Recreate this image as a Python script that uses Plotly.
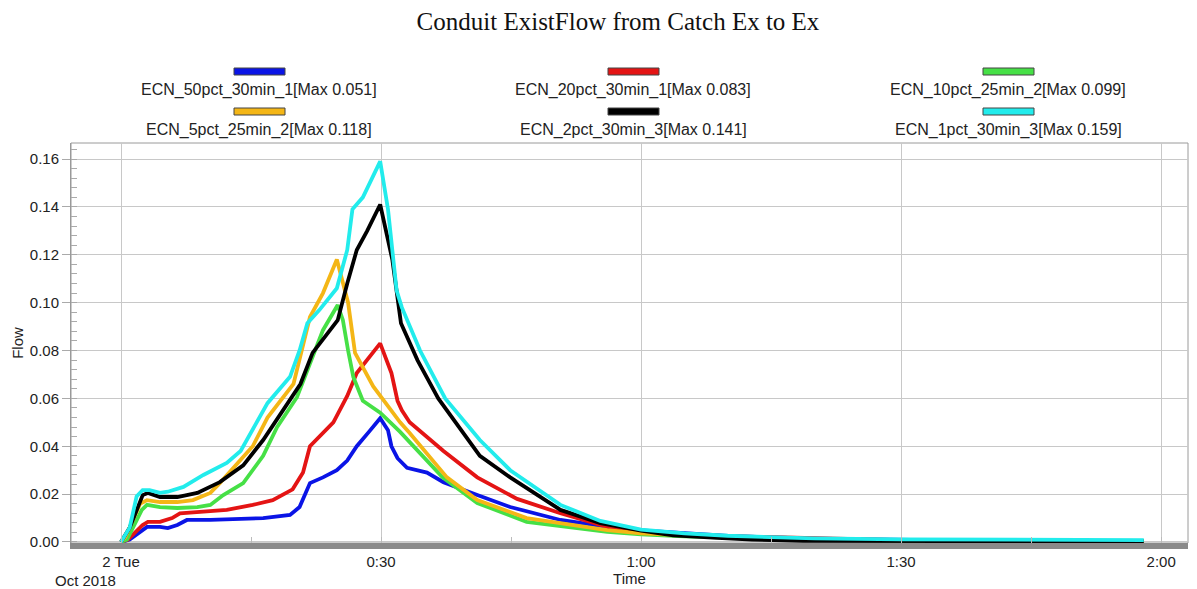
import plotly.graph_objects as go

# ---- data (time in minutes after 2 Oct 2018 00:00, flow) ----
names = ["ECN_50pct_30min_1[Max 0.051]", "ECN_20pct_30min_1[Max 0.083]", "ECN_10pct_25min_2[Max 0.099]",
         "ECN_5pct_25min_2[Max 0.118]", "ECN_2pct_30min_3[Max 0.141]", "ECN_1pct_30min_3[Max 0.159]"]
colors = ["#0a14e6", "#e41414", "#46e046", "#f4b616", "#000000", "#22ecec"]

t_blue = [0, 1, 3, 4.5, 5.4, 6.5, 7.6, 10.3, 16.4, 19.5, 20.6, 21.5, 21.8, 23.3, 24.9, 26.1, 27.2, 28.6, 29.9,
          30.8, 31.2, 31.9, 33, 35.3, 37.2, 41.1, 44.9, 50.7, 56.1, 60, 65, 70, 80, 90, 100, 118]
v_blue = [0, 0.001, 0.0063, 0.0063, 0.0058, 0.0071, 0.0092, 0.0092, 0.010, 0.0113, 0.0146, 0.0217, 0.0246, 0.027,
          0.030, 0.034, 0.040, 0.046, 0.0517, 0.0467, 0.040, 0.035, 0.031, 0.029, 0.025, 0.0196, 0.0146, 0.0092,
          0.0063, 0.0048, 0.0035, 0.0025, 0.0014, 0.0008, 0.0005, 0.0003]

t_red = [0, 0.8, 2.5, 3.1, 4.5, 5.9, 6.8, 8.3, 12.2, 15.2, 17.5, 19.8, 21, 21.8, 24.5, 26.1, 27.2, 29.9,
         31.2, 31.9, 32.4, 33.3, 37.2, 41.1, 45.7, 50.7, 56.1, 60, 65, 70, 80, 90, 100, 118]
v_red = [0, 0.001, 0.0071, 0.0084, 0.0084, 0.010, 0.012, 0.0125, 0.0134, 0.0155, 0.0175, 0.022, 0.029, 0.040,
         0.050, 0.061, 0.0706, 0.083, 0.0706, 0.059, 0.055, 0.050, 0.038, 0.027, 0.018, 0.012, 0.0063, 0.0046,
         0.0033, 0.0024, 0.0014, 0.0008, 0.0005, 0.0003]

t_green = [0, 0.7, 2.4, 3, 4.5, 6.5, 8.8, 10.3, 11.8, 14.1, 16.4, 18, 20.3, 21.8, 23.3, 25, 25.6, 26.2, 26.8,
           27.9, 29.9, 32.2, 37.1, 41.1, 46.8, 56.1, 60, 65, 70, 80, 90, 118]
v_green = [0, 0.001, 0.0134, 0.0155, 0.0146, 0.0142, 0.0146, 0.0155, 0.0196, 0.0246, 0.036, 0.048, 0.0605,
           0.0747, 0.0885, 0.099, 0.0927, 0.080, 0.069, 0.059, 0.054, 0.046, 0.027, 0.0163, 0.0084, 0.0042,
           0.0032, 0.0024, 0.0018, 0.001, 0.0006, 0.0003]

t_orange = [0, 0.5, 2.2, 3, 4.5, 6.5, 8.3, 10.3, 11.4, 15.2, 16.9, 19.9, 21.8, 23.3, 24.9, 25.6, 26.2, 27,
            29.1, 32.2, 33.3, 37.6, 41.1, 46.8, 56.1, 60, 65, 70, 80, 90, 118]
v_orange = [0, 0.002, 0.016, 0.0175, 0.0167, 0.0167, 0.0175, 0.0205, 0.0246, 0.040, 0.052, 0.066, 0.094, 0.104,
            0.118, 0.108, 0.100, 0.079, 0.065, 0.050, 0.0455, 0.027, 0.0175, 0.010, 0.005, 0.0036, 0.0027,
            0.002, 0.0012, 0.0007, 0.0003]

t_black = [0, 1, 2, 2.5, 3.1, 4.5, 6.5, 8.8, 11.4, 14.1, 16.4, 19, 20.7, 22.1, 25, 26.1, 27.2, 28.4, 29.9,
           31.3, 32, 32.3, 34.2, 36.6, 41.4, 44.9, 50.7, 55.3, 60, 63.7, 68.8, 72.8, 78.7, 90, 118]
v_black = [0, 0.006, 0.015, 0.0196, 0.0205, 0.0188, 0.0188, 0.0205, 0.025, 0.032, 0.0426, 0.057, 0.066, 0.079,
           0.0927, 0.108, 0.122, 0.130, 0.141, 0.118, 0.100, 0.0914, 0.076, 0.060, 0.036, 0.027, 0.0134, 0.0079,
           0.0048, 0.0028, 0.0017, 0.001, 0.0005, 0.0003, 0.0002]

t_cyan = [0, 1, 1.8, 2.5, 3.3, 4.5, 5.4, 7.2, 9.5, 12.2, 13.8, 14.5, 16.9, 19.5, 20.6, 21.5, 22.9, 24.9, 25.6,
          26.1, 26.7, 27.9, 29.9, 30.8, 31.8, 32.4, 34.5, 37.4, 41.4, 44.9, 50.7, 55.3, 60, 65, 70, 75, 80, 90,
          100, 118]
v_cyan = [0, 0.006, 0.019, 0.0217, 0.0217, 0.0205, 0.021, 0.023, 0.028, 0.033, 0.038, 0.0426, 0.058, 0.069,
          0.080, 0.0914, 0.097, 0.106, 0.116, 0.122, 0.139, 0.144, 0.159, 0.139, 0.105, 0.098, 0.080, 0.060,
          0.0426, 0.030, 0.0155, 0.0088, 0.0052, 0.0036, 0.0026, 0.0019, 0.0015, 0.0011, 0.0009, 0.0008]

series_t = [t_blue, t_red, t_green, t_orange, t_black, t_cyan]
series_v = [v_blue, v_red, v_green, v_orange, v_black, v_cyan]

x_tickvals = [0, 30, 60, 90, 120]
x_ticktext = ["2 Tue", "0:30", "1:00", "1:30", "2:00"]

fig = go.Figure()
for t, v, c, n in zip(series_t, series_v, colors, names):
    fig.add_trace(go.Scatter(x=t, y=v, mode="lines", name=n, line=dict(color=c, width=3.8), showlegend=False))

W, H = 1197, 589
ml, mr, mt, mb = 71, 9, 143, 46
fig.update_layout(
    width=W, height=H, autosize=False,
    margin=dict(l=ml, r=mr, t=mt, b=mb, autoexpand=False),
    paper_bgcolor="white", plot_bgcolor="white",
    font=dict(family="Liberation Sans, Arial, sans-serif", size=15, color="#222"),
    title=dict(text="Conduit ExistFlow from Catch Ex to Ex", x=618 / W, xanchor="center",
               y=1 - 21 / H, yanchor="middle", yref="container", xref="container",
               font=dict(family="Liberation Serif, Times New Roman, serif", size=25, color="#111")),
)
fig.update_xaxes(
    range=[-5.77, 123.1], tickvals=x_tickvals, ticktext=x_ticktext, automargin=False,
    showgrid=True, gridcolor="#c8c8c8", gridwidth=1,
    showline=True, linecolor="#8a8a8a", linewidth=6,
    ticks="", zeroline=False,
    minor=dict(dtick=15, tick0=0, ticks="inside", ticklen=6, tickcolor="#bbbbbb", showgrid=False),
    title=dict(text="Time", font=dict(size=15), standoff=0),
    tickfont=dict(size=15),
)
fig.update_yaxes(
    range=[-0.00042, 0.1667], tickvals=[0, 0.02, 0.04, 0.06, 0.08, 0.10, 0.12, 0.14, 0.16], tickformat=".2f",
    automargin=False,
    showgrid=True, gridcolor="#c8c8c8", gridwidth=1,
    showline=True, linecolor="#9a9a9a", linewidth=1,
    ticks="outside", ticklen=8, tickcolor="#aaaaaa", zeroline=False,
    minor=dict(dtick=0.004, tick0=0, ticks="inside", ticklen=6, tickcolor="#aaaaaa", showgrid=False),
    title=dict(text="Flow", font=dict(size=15), standoff=2),
    tickfont=dict(size=15),
)
# plot border
fig.add_shape(type="rect", xref="paper", yref="paper", x0=0, x1=1, y0=0, y1=1,
              line=dict(color="#9a9a9a", width=1), fillcolor="rgba(0,0,0,0)", layer="below")
# date annotation under first tick
fig.add_annotation(text="Oct 2018", x=0, xref="x", xanchor="center", xshift=-36, y=0, yref="paper",
                   yanchor="middle", yshift=-37, showarrow=False, font=dict(size=15))

# custom legend: swatch above label, 3 columns x 2 rows (pixel positions converted to paper coords)
col_cx = [259, 633, 1008]
row_sw = [71, 111]
row_tx = [90, 130]
pw, ph = W - ml - mr, H - mt - mb
fx = lambda px: (px - ml) / pw
fy = lambda py: (H - mb - py) / ph
for i, (n, c) in enumerate(zip(names, colors)):
    r, k = divmod(i, 3)
    cx = col_cx[k]
    fig.add_shape(type="rect", xref="paper", yref="paper", x0=fx(cx - 25), x1=fx(cx + 26),
                  y0=fy(row_sw[r] + 4), y1=fy(row_sw[r] - 3), line=dict(color="#444", width=1), fillcolor=c)
    fig.add_annotation(text=n, xref="paper", yref="paper", x=fx(cx), y=fy(row_tx[r]), xanchor="center",
                       yanchor="middle", showarrow=False, font=dict(size=16, color="#222"))

fig.write_html("out.html", config={"displayModeBar": False},
               post_script="document.body.style.margin='0';document.body.style.padding='0';"
                           "document.body.style.overflow='hidden';")
